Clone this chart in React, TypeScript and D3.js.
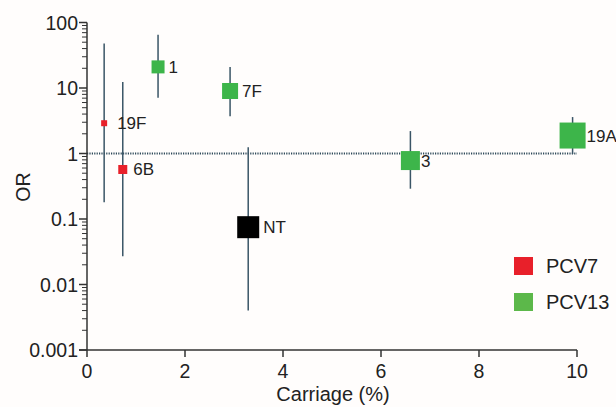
import React from "react";
import * as d3 from "d3";

const serotypes = ["19F", "6B", "1", "7F", "NT", "3", "19A"];
const groups = ["PCV7", "PCV7", "PCV13", "PCV13", "NT", "PCV13", "PCV13"];
const carriage = [0.35, 0.73, 1.45, 2.92, 3.29, 6.6, 9.91];
const orValues = [2.9, 0.57, 21, 9, 0.075, 0.78, 1.88];
const ciLow = [0.18, 0.027, 7.1, 3.7, 0.004, 0.29, 0.98];
const ciHigh = [48, 12.3, 65, 21, 1.25, 2.2, 3.6];
const markerSize = [6, 9, 13, 16, 22, 19, 26];
const xTicks = [0, 2, 4, 6, 8, 10];
const yTicks = [0.001, 0.01, 0.1, 1, 10, 100];
const yTickLabels = ["0.001", "0.01", "0.1", "1", "10", "100"];
const legendItems = ["PCV7", "PCV13"];

const colors: Record<string, string> = { PCV7: "#e8202a", PCV13: "#3db54a", NT: "#000000" };
const legendColors: Record<string, string> = { PCV7: "#e8202a", PCV13: "#5cb84a" };

export default function App() {
  const W = 616, H = 407;
  const x = d3.scaleLinear().domain([0, 10]).range([87, 577]);
  const y = d3.scaleLog().domain([0.001, 100]).range([350, 22.5]);
  const minors: number[] = [];
  for (let e = -3; e < 2; e++) {
    for (let m = 2; m <= 9; m++) minors.push(m * Math.pow(10, e));
  }
  const font = "'Liberation Sans', Arial, Helvetica, sans-serif";
  const axisColor = "#333";
  const barColor = "#3a5566";
  return (
    <svg width={W} height={H} style={{ position: "absolute", left: 0, top: 0, background: "#fffdfc" }} fontFamily={font}>
      {/* reference line at OR = 1 */}
      <line x1={x(0)} x2={x(10)} y1={y(1)} y2={y(1)} stroke="#2f4a5a" strokeWidth={1.8} strokeDasharray="1.2,1.2" />
      {/* error bars */}
      {serotypes.map((s, i) => (
        <line key={"e" + s} x1={x(carriage[i])} x2={x(carriage[i])} y1={y(ciLow[i])} y2={y(ciHigh[i])} stroke={barColor} strokeWidth={1.5} />
      ))}
      {/* markers */}
      {serotypes.map((s, i) => (
        <rect key={"m" + s} x={x(carriage[i]) - markerSize[i] / 2} y={y(orValues[i]) - markerSize[i] / 2}
          width={markerSize[i]} height={markerSize[i]} fill={colors[groups[i]]} />
      ))}
      {/* labels */}
      {serotypes.map((s, i) => {
        const gap = i === 0 ? 10 : i === 1 ? 6 : i === 5 || i === 6 ? 1 : 4;
        return (
          <text key={"l" + s} x={x(carriage[i]) + markerSize[i] / 2 + gap} y={y(orValues[i]) + 6}
            fontSize={17} fill="#222">{s}</text>
        );
      })}
      {/* y axis */}
      <line x1={x(0)} x2={x(0)} y1={y(100)} y2={y(0.001)} stroke={axisColor} strokeWidth={1.5} />
      {yTicks.map((t, i) => (
        <g key={"yt" + t}>
          <line x1={x(0) - 8} x2={x(0)} y1={y(t)} y2={y(t)} stroke={axisColor} strokeWidth={1.5} />
          <text x={x(0) - 9} y={y(t) + 7} textAnchor="end" fontSize={19.5} fill="#222">{yTickLabels[i]}</text>
        </g>
      ))}
      {minors.map((t) => (
        <line key={"ym" + t} x1={x(0) - 5} x2={x(0)} y1={y(t)} y2={y(t)} stroke={axisColor} strokeWidth={1} />
      ))}
      {/* x axis */}
      <line x1={x(0) - 8} x2={x(10)} y1={y(0.001)} y2={y(0.001)} stroke={axisColor} strokeWidth={1.5} />
      {xTicks.map((t) => (
        <g key={"xt" + t}>
          <line x1={x(t)} x2={x(t)} y1={y(0.001)} y2={y(0.001) + 7} stroke={axisColor} strokeWidth={1.5} />
          <text x={x(t)} y={y(0.001) + 28} textAnchor="middle" fontSize={19.5} fill="#222">{t}</text>
        </g>
      ))}
      <text x={333} y={401} textAnchor="middle" fontSize={20} fill="#222">Carriage (%)</text>
      <text transform="translate(30,187) rotate(-90)" textAnchor="middle" fontSize={19.5} fill="#222">OR</text>
      {/* legend */}
      {legendItems.map((g, i) => (
        <g key={"lg" + g}>
          <rect x={514} y={257 + i * 36} width={19} height={18} fill={legendColors[g]} />
          <text x={546} y={273 + i * 36} fontSize={20} fill="#222">{g}</text>
        </g>
      ))}
    </svg>
  );
}
